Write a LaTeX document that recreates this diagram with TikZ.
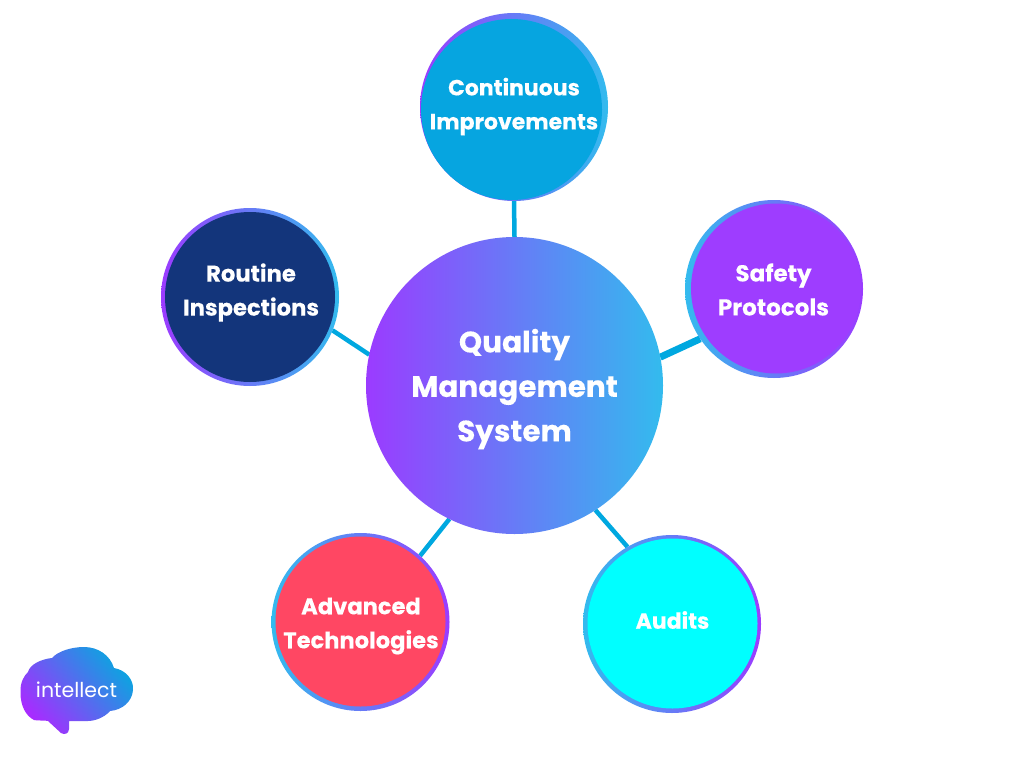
\documentclass[tikz,border=0pt]{standalone}
\usepackage{fontspec}
\setmainfont{Poppins}[BoldFeatures={FakeBold=0.25}]
\usetikzlibrary{backgrounds}
\definecolor{gpurple}{HTML}{9B3BFF}
\definecolor{gblue}{HTML}{33BBEE}
\definecolor{linkblue}{HTML}{00A8E0}
\definecolor{contfill}{HTML}{06A5E0}
\definecolor{safefill}{HTML}{9E3DFF}
\definecolor{routfill}{HTML}{13357B}
\definecolor{advfill}{HTML}{FF4763}
\definecolor{audfill}{HTML}{00FFFF}
\definecolor{logoblue}{HTML}{0BA5E0}
\definecolor{logopurple}{HTML}{A82BFF}
\tikzset{
  ringpb/.style={circle,inner sep=0pt,outer sep=0pt,minimum size=178pt,left color=gpurple,right color=gblue},
  ringbp/.style={circle,inner sep=0pt,outer sep=0pt,minimum size=178pt,left color=gblue,right color=gpurple},
  facenode/.style={circle,inner sep=0pt,outer sep=0pt,minimum size=170pt},
  labelnode/.style={text=white,align=center,inner sep=0pt,font=\bfseries\fontsize{#1}{34}\selectfont},
  labelnode/.default=22,
  link/.style={draw=linkblue,line width=4.5pt},
}
\begin{document}
\begin{tikzpicture}[x=1pt,y=-1pt]
\useasboundingbox (0,0) rectangle (1024,768);
\node[circle,inner sep=0pt,outer sep=0pt,minimum size=297pt,left color=gpurple,right color=gblue] (hub) at (514.5,385.5) {};
\node[labelnode,font=\bfseries\fontsize{29.5}{44.5}\selectfont] (hublabel) at (514.5,389) {Quality\\Management\\System};
% continuous improvements
\node[ringpb,minimum size=188pt] (contring) at (514,107) {};
\node[facenode,fill=contfill,minimum size=181pt] (cont) at (511.5,109.5) {};
\node[labelnode] (contlabel) at (514,106.5) {Continuous\\Improvements};
% safety protocols
\node[ringbp] (saferring) at (774,289) {};
\node[facenode,fill=safefill] (safe) at (776,288.5) {};
\node[labelnode=23] (safelabel) at (773.5,289.5) {Safety\\Protocols};
% routine inspections
\node[ringpb] (routring) at (250,297) {};
\node[facenode,fill=routfill] (rout) at (250,297) {};
\node[labelnode=22.7] (routlabel) at (251,292.5) {Routine\\Inspections};
% advanced technologies
\node[ringbp] (advring) at (360.5,622) {};
\node[facenode,fill=advfill] (adv) at (360.5,621.5) {};
\node[labelnode=22.6] (advlabel) at (361,626) {Advanced\\Technologies};
% audits
\node[ringbp] (audring) at (672,624) {};
\node[facenode,fill=audfill] (aud) at (672.5,623.5) {};
\node[labelnode] (audlabel) at (672.5,620) {Audits};
% logo
\shade[left color=logopurple,right color=logoblue,shading angle=130]
 (20.5,693) .. controls (20,682) and (24,676) .. (28,672)
 .. controls (30,664) and (42,659) .. (52,658)
 .. controls (58,651) and (72,647) .. (84,647)
 .. controls (98,647) and (110,655) .. (114,668)
 .. controls (126,670) and (134,680) .. (133,690)
 .. controls (132,702) and (122,710) .. (110,711)
 .. controls (104,718) and (94,721) .. (88,721)
 -- (69,721) -- (69,729) .. controls (69,734) and (64,735) .. (61,733)
 -- (48,721) .. controls (44,720) and (38,721) .. (34,720)
 .. controls (26,716) and (20.5,706) .. (20.5,693) -- cycle;
\node[text=white,inner sep=0pt,font=\fontsize{20.5}{24}\selectfont] (logotext) at (76.5,689.5) {intellect};
\begin{scope}[on background layer]
\fill[white] (0,0) rectangle (1024,768);
\draw[link] (hub.90) -- (contring.-90);
\draw[link,line width=7pt] (hub.11.6) -- (saferring.214.6);
\draw[link] (hub.168) -- (routring.-22);
\draw[link] (hub.244.3) -- (advring.48);
\draw[link] (hub.-57) -- (audring.120);
\end{scope}
\end{tikzpicture}
\end{document}
